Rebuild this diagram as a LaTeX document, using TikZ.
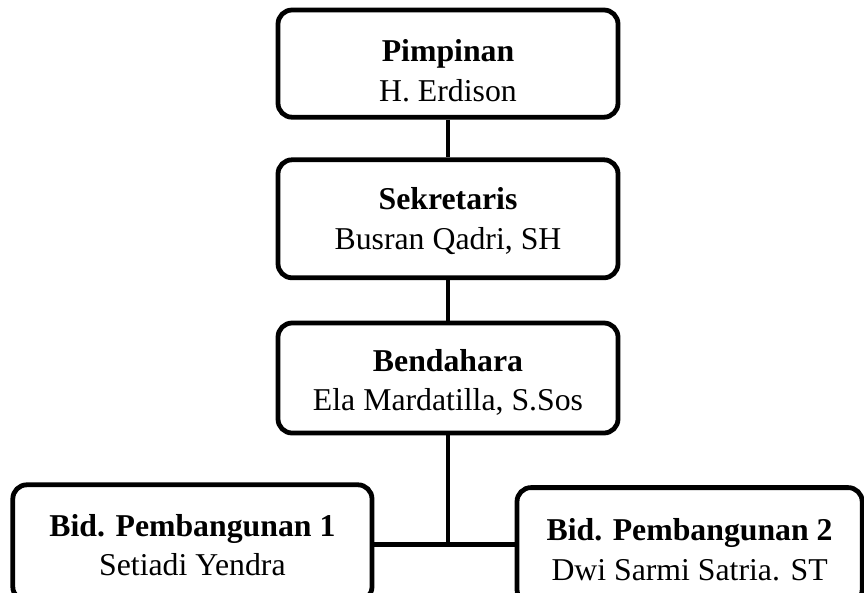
\documentclass[tikz,border=0pt]{standalone}
\usepackage{fontspec}
\setmainfont{Liberation Serif}
\usepackage{tikz}
\usetikzlibrary{positioning}
\newcommand{\naik}[1]{\rule{0pt}{#1}}

\begin{document}
\begin{tikzpicture}[
  jab/.style={draw=black, line width=3.4pt, rounded corners=10pt, fill=white,
              align=center, inner sep=0pt, minimum width=8.5cm, minimum height=2.75cm,
              font=\fontsize{22.6}{28.4}\selectfont},
  bid/.style={jab, minimum height=2.9cm},
  garis/.style={line width=3.4pt}]

  \clip (0,0) rectangle (21.6,-14.8);

  % --- pimpinan, sekretaris, bendahara ---
  \node[jab, minimum height=2.68cm] (pimpinan) at (11.2,-1.59) {\naik{26pt}\textbf{Pimpinan}\\H. Erdison};
  \node[jab, minimum height=2.95cm] (sekretaris) at (11.2,-5.47) {\naik{19pt}\textbf{Sekretaris}\\Busran Qadri, SH};
  \node[jab] (bendahara) at (11.2,-9.45) {\naik{22pt}\textbf{Bendahara}\\Ela Mardatilla, S.Sos};

  % --- bidang ---
  \node[bid, minimum width=8.98cm] (bid1) at (4.81,-13.57) {\naik{19pt}\textbf{Bid. Pembangunan 1}\\Setiadi Yendra};
  \node[bid, minimum width=8.63cm] (bid2) at (17.24,-13.64) {\naik{21pt}\textbf{Bid. Pembangunan 2}\\Dwi Sarmi Satria. ST};

  % --- garis ---
  \draw[garis] (pimpinan) -- (sekretaris);
  \draw[garis] (sekretaris) -- (bendahara);
  \coordinate (cabang) at (bendahara.south |- 0,-13.62);
  \draw[garis] (bendahara) -- (cabang);
  \draw[garis] (bid1.east |- cabang) -- (bid2.west |- cabang);
\end{tikzpicture}
\end{document}
